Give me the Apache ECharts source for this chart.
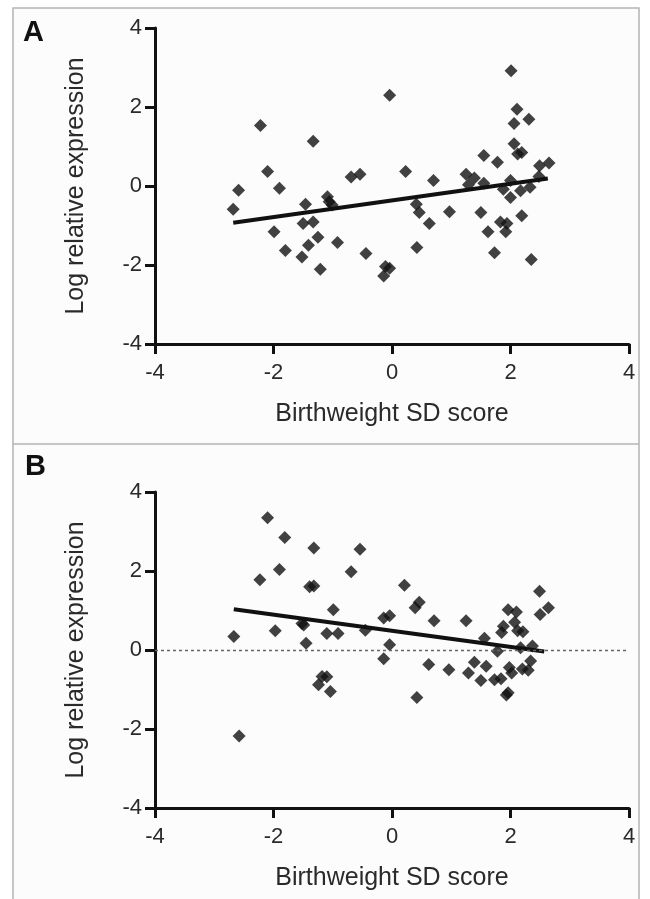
<!DOCTYPE html>
<html>
<head>
<meta charset="utf-8">
<script src="https://cdn.jsdelivr.net/npm/echarts@6/dist/echarts.min.js"></script>
<style>
  html, body { margin: 0; padding: 0; background: #fff; }
  #chart { width: 650px; height: 899px; }
</style>
</head>
<body>
<div id="chart"></div>
<script>
// Panel A: birthweight SD score vs log relative expression
const aX = [-2.68, -2.59, -2.22, -2.10, -1.99, -1.90, -1.80, -1.52, -1.50, -1.46, -1.41, -1.33, -1.33, -1.25, -1.21,
  -1.09, -1.06, -1.01, -0.92, -0.69, -0.54, -0.44, -0.14, -0.11, -0.04, -0.04, 0.23, 0.41, 0.46, 0.42, 0.63, 0.70,
  0.97, 1.25, 1.29, 1.39, 1.50, 1.55, 1.55, 1.62, 1.73, 1.78, 1.83, 1.88, 1.92, 1.94, 2.00, 2.00, 2.01, 2.06, 2.11,
  2.06, 2.12, 2.19, 2.17, 2.19, 2.31, 2.33, 2.35, 2.48, 2.49, 2.65]
const aY = [-0.59, -0.11, 1.53, 0.37, -1.16, -0.06, -1.63, -1.80, -0.95, -0.46, -1.50, 1.13, -0.91, -1.30, -2.11,
  -0.27, -0.40, -0.48, -1.43, 0.23, 0.30, -1.71, -2.28, -2.04, -2.08, 2.30, 0.37, -0.46, -0.67, -1.56, -0.95, 0.14,
  -0.65, 0.30, 0.03, 0.20, -0.67, 0.77, 0.07, -1.16, -1.69, 0.60, -0.91, -0.08, -1.16, -0.95, -0.29, 0.14, 2.92, 1.58, 1.94,
  1.07, 0.81, 0.85, -0.12, -0.75, 1.69, -0.03, -1.86, 0.24, 0.51, 0.58]
const fitAx = [-2.68, 2.63]
const fitAy = [-0.93, 0.19]

// Panel B
const bX = [-2.67, -2.58, -2.23, -2.10, -1.97, -1.90, -1.81, -1.52, -1.49, -1.45, -1.39, -1.32, -1.32, -1.24, -1.18,
  -1.10, -1.10, -1.04, -0.99, -0.91, -0.69, -0.54, -0.45, -0.14, -0.14, -0.04, -0.04, 0.21, 0.39, 0.46, 0.42, 0.62,
  0.71, 0.96, 1.25, 1.29, 1.39, 1.50, 1.56, 1.59, 1.73, 1.78, 1.84, 1.85, 1.88, 1.93, 1.96, 1.98, 2.02, 2.07, 2.10,
  2.12, 2.17, 2.20, 2.21, 2.30, 2.34, 2.37, 2.49, 2.50, 2.64, 1.96]
const bY = [0.34, -2.18, 1.78, 3.35, 0.49, 2.04, 2.85, 0.67, 0.63, 0.17, 1.60, 1.62, 2.58, -0.88, -0.67,
  -0.68, 0.42, -1.05, 1.02, 0.42, 1.98, 2.55, 0.50, -0.22, 0.81, 0.87, 0.13, 1.64, 1.07, 1.21, -1.20, -0.37,
  0.74, -0.50, 0.74, -0.58, -0.31, -0.77, 0.30, -0.41, -0.75, -0.03, -0.73, 0.44, 0.60, -1.14, 1.02, -0.44, -0.58, 0.70, 0.96,
  0.49, 0.06, -0.48, 0.46, -0.51, -0.28, 0.10, 1.49, 0.90, 1.07, -1.08]
const fitBx = [-2.67, 2.57]
const fitBy = [1.03, -0.04]

const xName = 'Birthweight SD score'
const yName = 'Log relative expression'

const zip = (xs, ys) => xs.map((x, i) => [x, ys[i]])

const font = 'Liberation Sans, Arial, sans-serif'
const ink = '#111'
const textColor = '#2a2a2a'

function xAxis(gridIndex) {
  return {
    type: 'value', gridIndex, min: -4, max: 4, interval: 2,
    name: xName, nameLocation: 'middle', nameGap: 58,
    nameTextStyle: { fontFamily: font, fontSize: 25, color: textColor },
    axisLine: { show: true, onZero: false, lineStyle: { color: ink, width: 3 } },
    axisTick: { show: true, length: 10, lineStyle: { color: ink, width: 3 } },
    axisLabel: { fontFamily: font, fontSize: 22, color: textColor, margin: 18 },
    splitLine: { show: false }
  }
}

function yAxis(gridIndex) {
  return {
    type: 'value', gridIndex, min: -4, max: 4, interval: 2,
    name: yName, nameLocation: 'middle', nameGap: 66,
    nameTextStyle: { fontFamily: font, fontSize: 25, color: textColor },
    axisLine: { show: true, onZero: false, lineStyle: { color: ink, width: 3 } },
    axisTick: { show: true, length: 10, lineStyle: { color: ink, width: 3 } },
    axisLabel: { fontFamily: font, fontSize: 22, color: textColor, margin: 13 },
    splitLine: { show: false }
  }
}

function scatter(idx, xs, ys) {
  return {
    type: 'scatter', xAxisIndex: idx, yAxisIndex: idx,
    symbol: 'diamond', symbolSize: 13,
    itemStyle: { color: '#111' },
    data: zip(xs, ys), z: 3
  }
}

function fit(idx, xs, ys) {
  return {
    type: 'line', xAxisIndex: idx, yAxisIndex: idx,
    showSymbol: false, symbol: 'none',
    lineStyle: { color: ink, width: 4 },
    data: zip(xs, ys), z: 4
  }
}

const chart = echarts.init(document.getElementById('chart'))

// dotted reference line at zero in panel B
const zeroLine = {
  type: 'line', xAxisIndex: 1, yAxisIndex: 1, symbol: 'none', data: [],
  markLine: {
    silent: true, symbol: 'none', label: { show: false },
    lineStyle: { color: '#666', type: [3, 3], width: 1.3 },
    data: [{ yAxis: 0 }]
  }
}

chart.setOption({
  backgroundColor: '#fff',
  animation: false,
  title: [
    { text: 'A', left: 18, top: 13, textStyle: { fontFamily: font, fontSize: 29, fontWeight: 'bold', color: '#111' } },
    { text: 'B', left: 20, top: 447, textStyle: { fontFamily: font, fontSize: 29, fontWeight: 'bold', color: '#111' } }
  ],
  graphic: [
    {
      type: 'rect', z: -10, silent: true,
      shape: { x: 13, y: 8, width: 626, height: 900 },
      style: { fill: '#fcfcfc', stroke: '#b4b4b4', lineWidth: 1.5 }
    },
    {
      type: 'line', z: -9, silent: true,
      shape: { x1: 13, y1: 444, x2: 639, y2: 444 },
      style: { stroke: '#b4b4b4', lineWidth: 1.5 }
    }
  ],
  grid: [
    { left: 155, top: 28, width: 474, height: 316 },
    { left: 155, top: 492, width: 474, height: 316 }
  ],
  xAxis: [xAxis(0), xAxis(1)],
  yAxis: [yAxis(0), yAxis(1)],
  series: [
    scatter(0, aX, aY),
    fit(0, fitAx, fitAy),
    zeroLine,
    scatter(1, bX, bY),
    fit(1, fitBx, fitBy)
  ]
})
</script>
</body>
</html>
